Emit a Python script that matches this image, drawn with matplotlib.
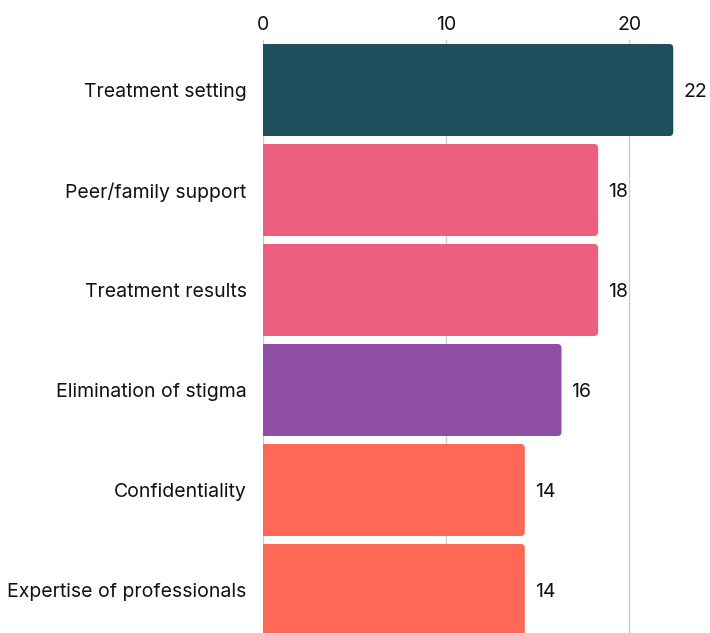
import matplotlib
matplotlib.use("Agg")
import matplotlib.pyplot as plt
from matplotlib.patches import FancyBboxPatch, Rectangle

# data
categories = ["Treatment setting", "Peer/family support", "Treatment results",
              "Elimination of stigma", "Confidentiality", "Expertise of professionals"]
values = [22.4, 18.3, 18.3, 16.3, 14.3, 14.3]
colors = ["#1f4e5f", "#ec5f7e", "#ec5f7e", "#8e4fa2", "#ff6757", "#ff6757"]
xticks = [0, 10, 20]

plt.rcParams['font.family'] = ['Inter', 'DejaVu Sans']

fig = plt.figure(figsize=(7.10, 6.33), dpi=100)
ax = fig.add_axes([262.7 / 710, (633 - 640) / 633, (702.6 - 262.7) / 710, 600 / 633])

xmax = 24
ax.set_xlim(0, xmax)
ax.set_ylim(len(categories) - 0.5, -0.5)

px_x = (702.6 - 262.7) / xmax   # px per x unit
px_y = 100.0                    # px per y unit
r = 4.0 / px_x
h = 0.92

for i, (v, c) in enumerate(zip(values, colors)):
    box = FancyBboxPatch((0, i - h / 2), v, h,
                         boxstyle="round,pad=0,rounding_size=%f" % r,
                         mutation_aspect=px_x / px_y,
                         fc=c, ec="none", zorder=3)
    ax.add_patch(box)
    ax.add_patch(Rectangle((0, i - h / 2), v / 2, h, fc=c, ec="none", zorder=3))
    ax.text(v + 10 / px_x, i, "%d" % round(v), va="center_baseline", ha="left",
            fontsize=14, color="#111111")

ax.set_yticks(range(len(categories)))
ax.set_yticklabels(categories, fontsize=14, color="#111111", va="center_baseline")
ax.set_xticks(xticks)
ax.xaxis.tick_top()
ax.tick_params(axis="x", length=0, pad=4, labelsize=14, labelcolor="#111111")
ax.tick_params(axis="y", length=0, pad=11.5)
ax.grid(axis="x", color="#cccccc", linewidth=1, zorder=0)
ax.set_axisbelow(True)
for s in ax.spines.values():
    s.set_visible(False)

fig.savefig("out.png", dpi=100)
